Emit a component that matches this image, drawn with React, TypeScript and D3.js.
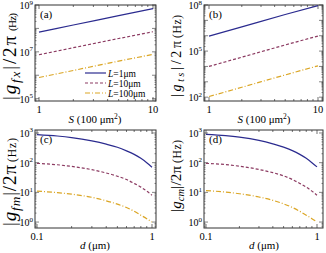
import React from "react";
import * as d3 from "d3";

// ---- data ----
const areaS = [1, 2, 5, 10];
const gfxL1 = [7.0e7, 1.4e8, 3.5e8, 7.0e8];
const gfxL10 = [7.5e6, 1.5e7, 3.7e7, 7.2e7];
const gfxL100 = [8.0e5, 1.6e6, 4.0e6, 7.8e6];
const gtsL1 = [9.5e5, 3.8e6, 2.4e7, 9.0e7];
const gtsL10 = [1.0e4, 4.0e4, 2.5e5, 9.5e5];
const gtsL100 = [1.1e2, 4.4e2, 2.8e3, 1.1e4];

const distD = [0.1, 0.15, 0.2, 0.3, 0.4, 0.5, 0.6, 0.7, 0.8, 0.9, 1.0];
const gfmL1 = [880, 790, 700, 540, 420, 330, 250, 190, 140, 100, 70];
const gfmL10 = [95, 85, 75, 58, 45, 35, 27, 20, 15, 11, 8];
const gfmL100 = [11, 9.8, 8.7, 6.8, 5.2, 4.0, 3.1, 2.3, 1.7, 1.3, 1.0];
const gcmL1 = [900, 810, 720, 560, 430, 335, 255, 190, 140, 100, 72];
const gcmL10 = [95, 86, 76, 59, 46, 36, 27, 20, 15, 11, 8];
const gcmL100 = [11.5, 10.2, 9.0, 7.0, 5.4, 4.1, 3.1, 2.3, 1.7, 1.3, 1.0];

const legendLabels = ["1μm", "10μm", "100μm"];
const yLabelsA = [9, 7, 5];
const yLabelsB = [8, 5, 2];
const yLabelsCD = [3, 2, 1, 0];

const serif = "'Liberation Serif', 'DejaVu Serif', serif";
const styles = [
  { color: "#2b2b8f", dash: "" },
  { color: "#8c3b62", dash: "3,2" },
  { color: "#dba625", dash: "5,2,1,2" },
];

type Frame = { l: number; r: number; t: number; b: number };

function Panel(props: any) {
  const { f, xr, xd, yd, xs, ys, tag, xLabels, yLabels, children } = props;
  const x = d3.scaleLog().domain(xd).range(xr);
  const y = d3.scaleLog().domain(yd).range([f.b, f.t]);
  const line = d3
    .line<[number, number]>()
    .x((d) => x(d[0]))
    .y((d) => y(d[1]))
    .curve(d3.curveMonotoneX);

  const xMinor: number[] = [];
  const lo = Math.floor(Math.log10(xd[0]));
  const hi = Math.ceil(Math.log10(xd[1]));
  for (let e = lo; e <= hi; e++)
    for (let m = 1; m < 10; m++) {
      const v = m * Math.pow(10, e);
      if (v >= xd[0] && v <= xd[1]) xMinor.push(v);
    }
  const yTicks: number[] = [];
  const ylo = Math.floor(Math.log10(yd[0]));
  const yhi = Math.ceil(Math.log10(yd[1]));
  for (let e = ylo; e <= yhi; e++)
    for (let m = 1; m < 10; m++) {
      const v = m * Math.pow(10, e);
      if (v >= yd[0] && v <= yd[1]) yTicks.push(v);
    }
  const tk = "#333";
  return (
    <g>
      <rect x={f.l} y={f.t} width={f.r - f.l} height={f.b - f.t} fill="none" stroke={tk} strokeWidth={1} />
      {xMinor.map((v, i) => {
        const major = Math.abs(Math.log10(v) - Math.round(Math.log10(v))) < 1e-6;
        const len = major ? 4 : 2;
        return (
          <g key={"x" + i} stroke={tk} strokeWidth={0.7}>
            <line x1={x(v)} x2={x(v)} y1={f.b} y2={f.b - len} />
            <line x1={x(v)} x2={x(v)} y1={f.t} y2={f.t + len} />
          </g>
        );
      })}
      {yTicks.map((v, i) => {
        const major = Math.abs(Math.log10(v) - Math.round(Math.log10(v))) < 1e-6;
        const len = major ? 4 : 1.5;
        return (
          <g key={"y" + i} stroke={tk} strokeWidth={0.6}>
            <line x1={f.l} x2={f.l + len} y1={y(v)} y2={y(v)} />
            <line x1={f.r} x2={f.r - len} y1={y(v)} y2={y(v)} />
          </g>
        );
      })}
      {ys.map((s: number[], i: number) => (
        <path
          key={"s" + i}
          d={line(xs.map((v: number, j: number) => [v, s[j]]) as [number, number][]) || ""}
          fill="none"
          stroke={styles[i].color}
          strokeWidth={1.2}
          strokeDasharray={styles[i].dash}
        />
      ))}
      {xLabels.map((v: number, i: number) => (
        <text key={"xl" + i} x={x(v)} y={f.b + 12} fontSize={10.5} textAnchor="middle" fontFamily={serif}>
          {String(v)}
        </text>
      ))}
      {yLabels.map((e: number, i: number) => (
        <text key={"yl" + i} x={f.l - 2} y={y(Math.pow(10, e)) + 4} fontSize={10} textAnchor="end" fontFamily={serif}>
          10<tspan fontSize={7} dy={-4.5}>{e}</tspan>
        </text>
      ))}
      <text x={f.l + 5} y={f.t + 13} fontSize={11} fontFamily={serif}>
        {tag}
      </text>
      {children}
    </g>
  );
}

function YTitle({ cx, yMain, lenMain, fs, sub, yHz, lenHz, fsHz }: any) {
  return (
    <g fontFamily={serif}>
      <text transform={`translate(${cx},${yMain}) rotate(-90)`} fontSize={fs} textLength={lenMain} lengthAdjust="spacing">
        |<tspan fontStyle="italic">g</tspan>
        <tspan fontStyle="italic" fontSize={fs * 0.7} dy={fs * 0.22}>
          {sub}
        </tspan>
        <tspan dy={-fs * 0.22}>|/2π</tspan>
      </text>
      <text transform={`translate(${cx},${yHz}) rotate(-90)`} fontSize={fsHz} textLength={lenHz} lengthAdjust="spacing">
        (Hz)
      </text>
    </g>
  );
}

function STitle({ x, y }: any) {
  return (
    <text x={x} y={y} fontSize={11} textAnchor="middle" fontFamily={serif}>
      <tspan fontStyle="italic">S</tspan> (100 μm<tspan fontSize={7.5} dy={-4}>2</tspan>
      <tspan dy={4}>)</tspan>
    </text>
  );
}

function DTitle({ x, y }: any) {
  return (
    <text x={x} y={y} fontSize={11} textAnchor="middle" fontFamily={serif}>
      <tspan fontStyle="italic">d</tspan> (μm)
    </text>
  );
}

export default function App() {
  const fa: Frame = { l: 35, r: 156, t: 5, b: 101 };
  const fb: Frame = { l: 204, r: 323, t: 5, b: 101 };
  const fc: Frame = { l: 35, r: 156, t: 130, b: 228 };
  const fd: Frame = { l: 204, r: 323, t: 130, b: 228 };
  const legRows = [73, 83, 93];
  return (
    <svg width={326} height={253} style={{ position: "absolute", left: 0, top: 0, background: "#fff" }}>
      <Panel f={fa} xr={[39, 153]} xd={[1, 10]} yd={[Math.pow(10, 4.9), 1e9]} xs={areaS}
        ys={[gfxL1, gfxL10, gfxL100]} tag="(a)" xLabels={[1, 10]} yLabels={yLabelsA}>
        {legendLabels.map((lab, i) => (
          <g key={i}>
            <line x1={85} x2={106} y1={legRows[i]} y2={legRows[i]} stroke={styles[i].color}
              strokeWidth={1.2} strokeDasharray={styles[i].dash} />
            <text x={108} y={legRows[i] + 3.5} fontSize={9.5} fontFamily={serif}>
              <tspan fontStyle="italic">L</tspan>={lab}
            </text>
          </g>
        ))}
      </Panel>
      <Panel f={fb} xr={[209, 318]} xd={[1, 10]} yd={[Math.pow(10, 1.75), 1e8]} xs={areaS}
        ys={[gtsL1, gtsL10, gtsL100]} tag="(b)" xLabels={[1, 10]} yLabels={yLabelsB} />
      <Panel f={fc} xr={[37, 152]} xd={[0.1, 1]} yd={[Math.pow(10, -0.2), Math.pow(10, 3.1)]} xs={distD}
        ys={[gfmL1, gfmL10, gfmL100]} tag="(c)" xLabels={[0.1, 1]} yLabels={yLabelsCD} />
      <Panel f={fd} xr={[206, 317]} xd={[0.1, 1]} yd={[Math.pow(10, -0.2), Math.pow(10, 3.1)]} xs={distD}
        ys={[gcmL1, gcmL10, gcmL100]} tag="(d)" xLabels={[0.1, 1]} yLabels={yLabelsCD} />

      <YTitle cx={16} yMain={100} lenMain={64} fs={19} sub="fx" yHz={31} lenHz={18} fsHz={11} />
      <YTitle cx={181} yMain={97} lenMain={56} fs={14} sub="ts" yHz={38} lenHz={23} fsHz={11.5} />
      <YTitle cx={16} yMain={226} lenMain={61} fs={19} sub="fm" yHz={162} lenHz={24} fsHz={11.5} />
      <YTitle cx={181} yMain={212} lenMain={46} fs={15} sub="cm" yHz={163} lenHz={23} fsHz={11.5} />

      <STitle x={95} y={123} />
      <STitle x={264} y={123} />
      <DTitle x={95} y={249} />
      <DTitle x={264} y={249} />
    </svg>
  );
}
